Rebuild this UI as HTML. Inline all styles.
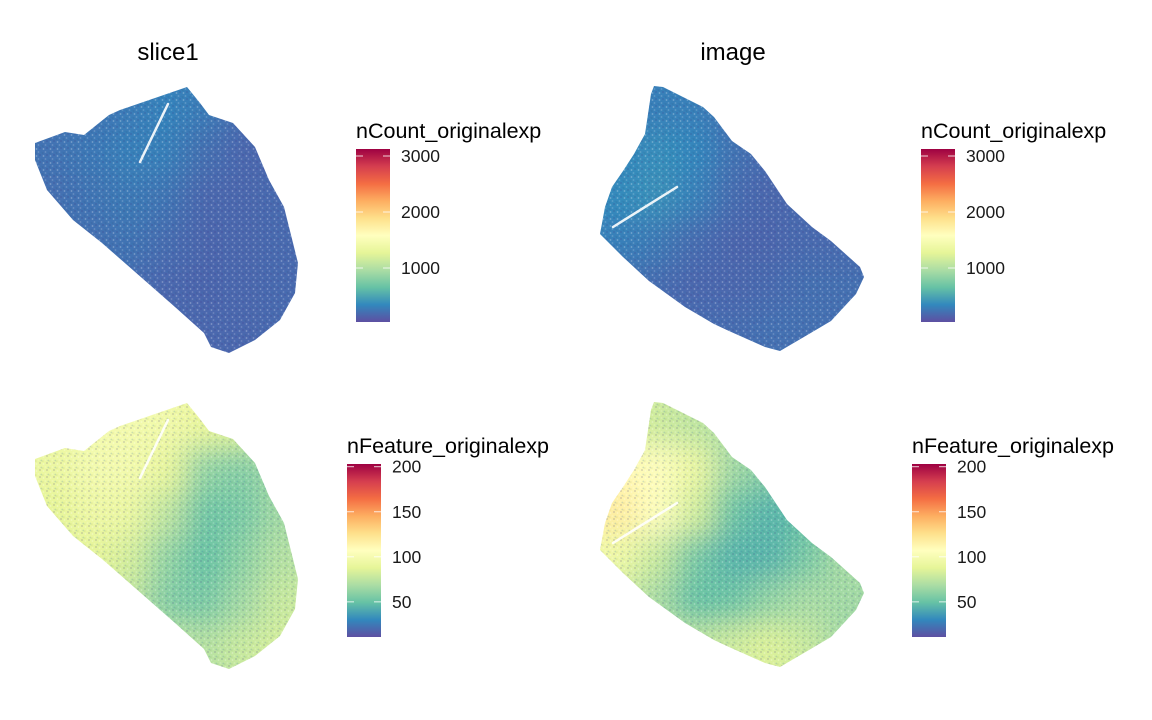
<!DOCTYPE html>
<html><head><meta charset="utf-8">
<style>
html,body{margin:0;padding:0;background:#fff;}
svg{display:block;font-family:"Liberation Sans",Arial,sans-serif;}
</style></head>
<body>
<svg id="chart" width="1152" height="720" viewBox="0 0 1152 720">
<defs>
 <linearGradient id="spectral" x1="0" y1="1" x2="0" y2="0">
  <stop offset="0" stop-color="#5E4FA2"/><stop offset="0.1" stop-color="#3288BD"/>
  <stop offset="0.2" stop-color="#66C2A5"/><stop offset="0.3" stop-color="#ABDDA4"/>
  <stop offset="0.4" stop-color="#E6F598"/><stop offset="0.5" stop-color="#FFFFBF"/>
  <stop offset="0.6" stop-color="#FEE08B"/><stop offset="0.7" stop-color="#FDAE61"/>
  <stop offset="0.8" stop-color="#F46D43"/><stop offset="0.9" stop-color="#D53E4F"/>
  <stop offset="1" stop-color="#9E0142"/>
 </linearGradient>
 <filter id="blur" x="-20%" y="-20%" width="140%" height="140%"><feGaussianBlur stdDeviation="14"/></filter>
 <pattern id="speckle" width="7" height="7" patternUnits="userSpaceOnUse">
  <circle cx="1.5" cy="2" r="0.9" fill="#ffffff" opacity="0.3"/>
  <circle cx="5" cy="1" r="0.9" fill="#3a2f80" opacity="0.25"/>
  <circle cx="3.5" cy="5" r="0.9" fill="#ffffff" opacity="0.2"/>
  <circle cx="6.3" cy="5.5" r="0.9" fill="#2a6fa8" opacity="0.2"/>
  <circle cx="0.8" cy="6" r="0.8" fill="#000000" opacity="0.08"/>
 </pattern>
</defs>
</svg>
<script>
// Spatial shape outlines (tissue boundary) for each image
const slice1Outline = [[35,143],[65,132],[84,135],[109,115],[120,110],[187,87],[200,103],[209,115],[233,123],[255,147],[269,180],[284,207],[298,263],[295,293],[280,320],[255,340],[229,353],[211,347],[204,333],[175,307],[102,243],[73,220],[47,190],[35,160]];
const imageOutline = [[654,86],[663,87],[703,107],[714,117],[732,141],[751,154],[765,171],[787,204],[812,227],[831,241],[860,267],[864,277],[856,294],[831,321],[809,334],[780,351],[765,347],[729,331],[714,324],[685,307],[649,281],[623,257],[600,234],[605,207],[612,187],[623,171],[634,154],[645,134],[651,94]];
// Coarse regional mean values (7 cols x 6 rows)
const slice1Count = [
 [230,240,280,320,280,200,190],[230,260,300,300,210,170,170],[210,240,270,240,170,170,190],
 [210,210,240,200,160,170,190],[200,200,200,170,160,170,190],[200,200,200,190,170,170,190]];
const imageCount = [
 [260,300,300,230,190,190,190],[330,380,340,230,190,190,190],[360,400,310,200,160,190,190],
 [300,270,200,160,160,190,190],[230,200,170,170,190,210,210],[200,200,200,200,220,220,210]];
const slice1Feature = [
 [92,98,98,96,90,85,80],[92,98,98,90,62,58,66],[88,94,92,75,52,55,66],
 [84,88,82,62,50,60,72],[84,84,76,58,55,66,78],[84,84,82,76,72,78,82]];
const imageFeature = [
 [85,80,75,70,65,65,68],[112,106,92,66,58,60,66],[118,106,82,52,45,50,62],
 [95,78,55,45,45,55,68],[80,68,50,52,62,68,66],[85,80,75,80,85,78,66]];
const countRange = [36, 3125];
const featureRange = [11, 203];
const countTicks = [1000, 2000, 3000];
const featureTicks = [50, 100, 150, 200];

const NS = "http://www.w3.org/2000/svg";
const svg = document.getElementById('chart');
const stops = ["#5E4FA2","#3288BD","#66C2A5","#ABDDA4","#E6F598","#FFFFBF","#FEE08B","#FDAE61","#F46D43","#D53E4F","#9E0142"];
function hex(c){return [1,3,5].map(i=>parseInt(c.substr(i,2),16));}
function colorOf(v,range){
 let t=(v-range[0])/(range[1]-range[0]); t=Math.max(0,Math.min(1,t));
 const p=t*(stops.length-1), i=Math.min(stops.length-2,Math.floor(p)), f=p-i;
 const a=hex(stops[i]), b=hex(stops[i+1]);
 return 'rgb('+a.map((x,k)=>Math.round(x+(b[k]-x)*f)).join(',')+')';
}
function el(tag,attrs,parent){const e=document.createElementNS(NS,tag);for(const k in attrs)e.setAttribute(k,attrs[k]);(parent||svg).appendChild(e);return e;}

let clipId=0;
function panel(outline, dy, grid, range, name, vessel){
 const pts = outline.map(p=>[p[0],p[1]+dy]);
 const xs=pts.map(p=>p[0]), ys=pts.map(p=>p[1]);
 const x0=Math.min(...xs), x1=Math.max(...xs), y0=Math.min(...ys), y1=Math.max(...ys);
 const id='clip'+(clipId++);
 const cp=el('clipPath',{id:id});
 el('polygon',{points:pts.map(p=>p.join(',')).join(' ')},cp);
 const g=el('g',{'clip-path':'url(#'+id+')'});
 
 
 const inner=el('g',{filter:'url(#blur)'},g);
 const rows=grid.length, cols=grid[0].length;
 const cw=(x1-x0)/cols, ch=(y1-y0)/rows;
 grid.forEach((row,r)=>row.forEach((v,c)=>{
  let rx=x0+c*cw, ry=y0+r*ch, rw=cw+0.5, rh=ch+0.5;
  if(c===0){rx-=30;rw+=30;} if(c===cols-1){rw+=30;}
  if(r===0){ry-=30;rh+=30;} if(r===rows-1){rh+=30;}
  const cell=el('rect',{x:rx,y:ry,width:rw,height:rh,fill:colorOf(v,range)},inner);
  
  
 }));
 el('rect',{x:x0-5,y:y0-5,width:x1-x0+10,height:y1-y0+10,fill:'url(#speckle)'},g);
 const v=el('line',{x1:vessel[0],y1:vessel[1]+dy,x2:vessel[2],y2:vessel[3]+dy,stroke:'#fff','stroke-width':2.5,'stroke-linecap':'round',opacity:0.9},g);
 
 
}
panel(slice1Outline,0,slice1Count,countRange,'slice1-ncount-spots',[168,104,140,162]);
panel(imageOutline,0,imageCount,countRange,'image-ncount-spots',[613,227,677,187]);
panel(slice1Outline,316,slice1Feature,featureRange,'slice1-nfeature-spots',[168,104,140,162]);
panel(imageOutline,316,imageFeature,featureRange,'image-nfeature-spots',[613,227,677,187]);

function title(x,txt,name){
 const t=el('text',{x:x,y:60,'font-size':24,'text-anchor':'middle',fill:'#000'});
 t.textContent=txt;
 
 
}
title(168,'slice1','slice1-title');
title(733,'image','image-title');

function legend(x,yTitle,barTop,barBot,range,ticks,label,name){
 const g=el('g',{});
 
 
 const t=el('text',{x:x,y:yTitle,'font-size':21.5,fill:'#000'},g);
 t.textContent=label;
 
 
 const bar=el('rect',{x:x,y:barTop,width:34,height:barBot-barTop,fill:'url(#spectral)'},g);
 
 
 ticks.forEach(v=>{
  const y=barBot-(v-range[0])/(range[1]-range[0])*(barBot-barTop);
  el('line',{x1:x,y1:y,x2:x+7,y2:y,stroke:'#fff','stroke-width':1,opacity:0.8},g);
  el('line',{x1:x+27,y1:y,x2:x+34,y2:y,stroke:'#fff','stroke-width':1,opacity:0.8},g);
  const l=el('text',{x:x+45,y:y+6,'font-size':17.5,fill:'#1a1a1a'},g);
  l.textContent=v;
  
  
 });
}
legend(356,138,149,322,countRange,countTicks,'nCount_originalexp','legend-ncount-slice1');
legend(921,138,149,322,countRange,countTicks,'nCount_originalexp','legend-ncount-image');
legend(347,453,464,637,featureRange,featureTicks,'nFeature_originalexp','legend-nfeature-slice1');
legend(912,453,464,637,featureRange,featureTicks,'nFeature_originalexp','legend-nfeature-image');
</script>
</body></html>
